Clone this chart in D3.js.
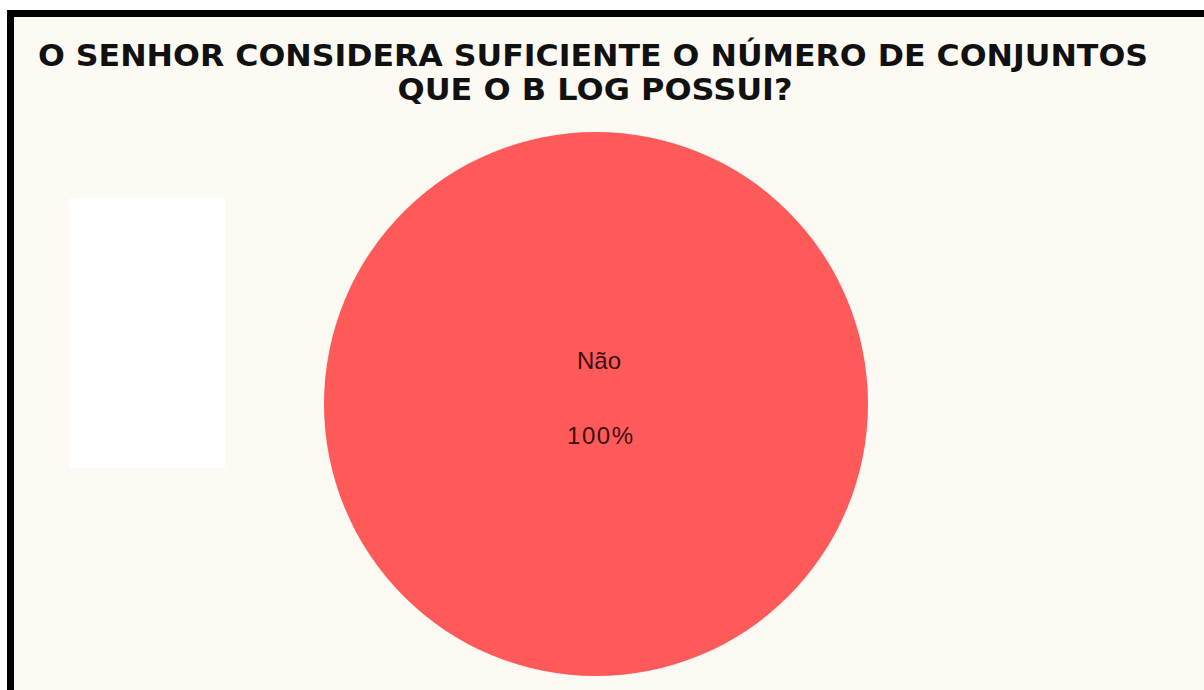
<!DOCTYPE html>
<html>
<head>
<meta charset="utf-8">
<script src="https://cdn.jsdelivr.net/npm/d3@7"></script>
<style>
  html, body { margin: 0; padding: 0; background: #fff; }
  svg { display: block; }
</style>
</head>
<body>
<div id="chart"></div>
<script>
'use strict';

var titleLines = ['O SENHOR CONSIDERA SUFICIENTE O NÚMERO DE CONJUNTOS', 'QUE O B LOG POSSUI?'];
var titleWidths = [1110, 395];
var categories = ['Não'];
var values = [100];
var colors = ['#ff5a5a'];

var width = 1204, height = 690;

var svg = d3.select('#chart').append('svg')
    .attr('width', width)
    .attr('height', height);

// frame: cream panel with heavy black top/left edge
svg.append('rect')
    .attr('x', 7).attr('y', 10)
    .attr('width', width - 7).attr('height', height - 10)
    .attr('fill', '#000');
svg.append('rect')
    .attr('x', 14).attr('y', 17)
    .attr('width', width - 14).attr('height', height - 17)
    .attr('fill', '#fdfaf4');

// blank white box on the left
svg.append('rect')
    .attr('x', 70).attr('y', 198)
    .attr('width', 155).attr('height', 270)
    .attr('fill', '#ffffff');

var title = svg.append('text')
    .attr('text-anchor', 'middle')
    .style('font-family', '"DejaVu Sans", sans-serif')
    .style('font-weight', 'bold')
    .style('font-size', '30px')
    .attr('fill', '#111');

title.selectAll('tspan')
  .data(titleLines)
  .join('tspan')
    .attr('x', (d, i) => i ? 595 : 593)
    .attr('y', (d, i) => 66 + i * 34)
    .attr('textLength', (d, i) => titleWidths[i])
    .attr('lengthAdjust', 'spacingAndGlyphs')
    .text(d => d);

var cx = 596, cy = 404, r = 272;

var pie = d3.pie().sort(null).value(d => d.value);
var arc = d3.arc().innerRadius(0).outerRadius(r);
var data = categories.map((c, i) => ({ name: c, value: values[i], color: colors[i] }));
var arcs = pie(data);
var total = d3.sum(values);

var g = svg.append('g').attr('transform', `translate(${cx},${cy})`);

g.selectAll('path')
  .data(arcs)
  .join('path')
    .attr('d', arc)
    .attr('fill', d => d.data.color);

var labels = g.selectAll('text.lbl')
  .data(arcs)
  .join('text')
    .attr('class', 'lbl')
    .attr('text-anchor', 'middle')
    .style('font-family', '"Liberation Sans", Arial, sans-serif')
    .style('font-size', '24px')
    .attr('fill', '#3d0e0e');

labels.append('tspan')
    .attr('x', 3)
    .attr('y', -35)
    .text(d => d.data.name);

labels.append('tspan')
    .attr('x', 4)
    .attr('y', 40)
    .attr('textLength', 66)
    .text(d => Math.round(d.data.value / total * 100) + '%');
</script>
</body>
</html>
